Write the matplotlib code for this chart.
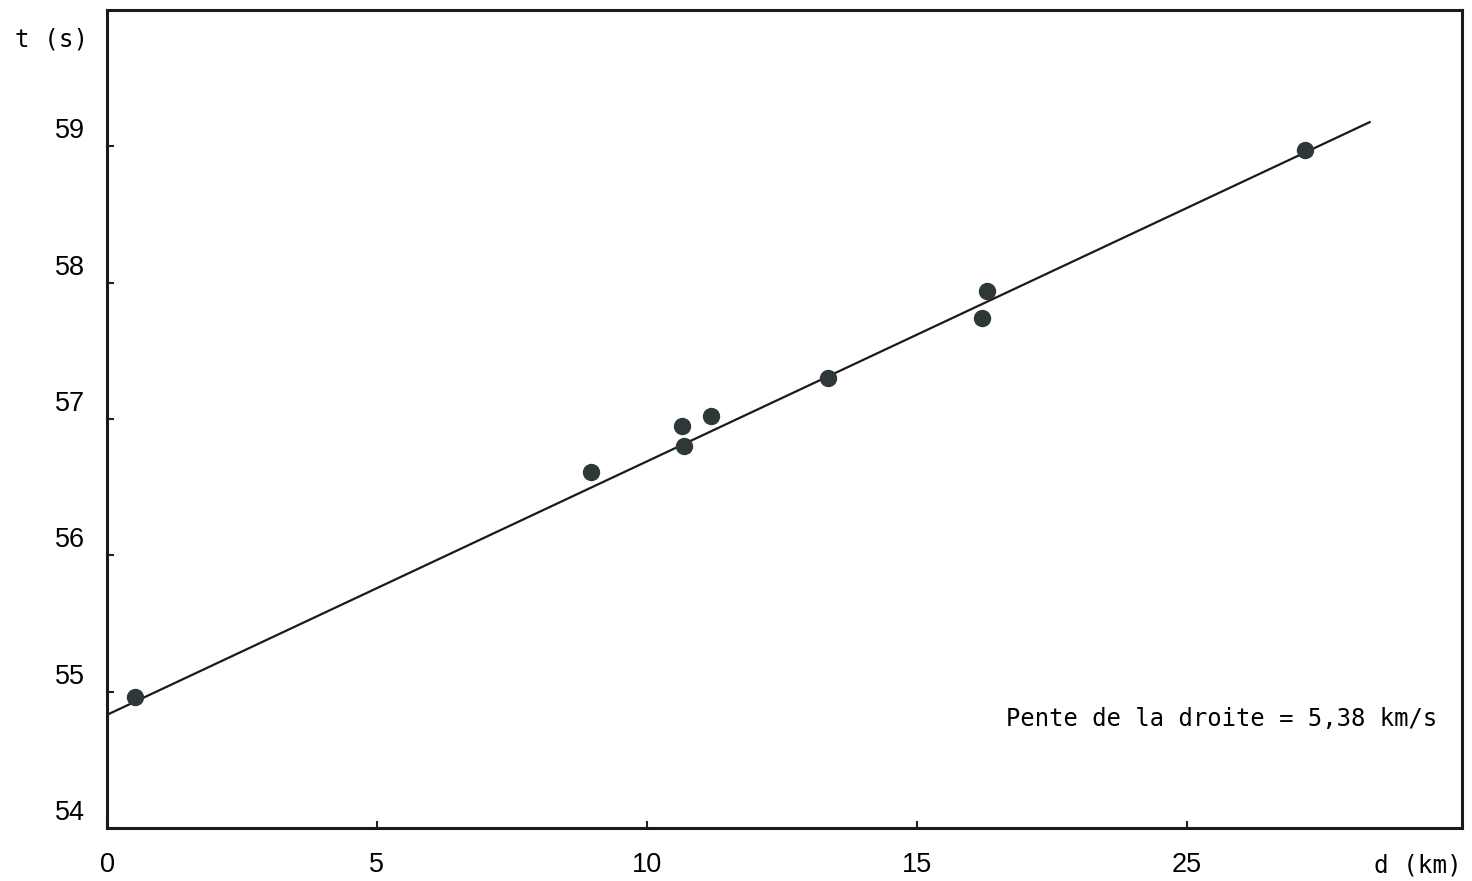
import matplotlib.pyplot as plt
import matplotlib.transforms as mtransforms
import numpy as np

# distances (km) and arrival times (s)
d_km = [0.52, 8.96, 10.65, 10.69, 11.19, 13.35, 16.20, 16.31, 22.19]
t_s = [54.96, 56.61, 56.95, 56.80, 57.02, 57.30, 57.74, 57.94, 58.97]

# fitted line: t = t0 + d / v
t0 = 54.83
v = 5.38
line_d = [0.0, 23.39]

xticks = [0, 5, 10, 15, 20]
xticklabels = ["0", "5", "10", "15", "25"]
yticks = [54, 55, 56, 57, 58, 59]

mono = "DejaVu Sans Mono"
sans = "Liberation Sans"

fig = plt.figure(figsize=(14.72, 8.81), dpi=100)
ax = fig.add_axes([0.0727, 0.0602, 0.9205, 0.9284])

ld = np.array(line_d)
ax.plot(ld, t0 + ld / v, color="#1a1a1a", lw=1.6, zorder=2)
ax.plot(d_km, t_s, "o", color="#2e3838", ms=11.5, zorder=3)

ax.set_xlim(0, 25.1)
ax.set_ylim(54, 60)

ax.set_xticks(xticks)
ax.set_xticklabels(xticklabels, fontfamily=sans, fontsize=19.5)
ax.set_yticks(yticks)
ax.set_yticklabels([str(y) for y in yticks], fontfamily=sans, fontsize=19.5)
ax.tick_params(direction="in", length=5, width=1.5, color="#222222")
ax.tick_params(axis="x", pad=17)
ax.tick_params(axis="y", pad=16)

# labels on the y axis sit a little above their tick
off = mtransforms.ScaledTranslation(0, 18 / 100, fig.dpi_scale_trans)
for lab in ax.get_yticklabels():
    lab.set_transform(lab.get_transform() + off)

for s in ax.spines.values():
    s.set_linewidth(2.2)
    s.set_color("#1a1a1a")

fig.text(15 / 1472, 1 - 40 / 881, "t (s)", family=mono, fontsize=17.5,
         ha="left", va="center")
fig.text(1462 / 1472, 1 - 865 / 881, "d (km)", family=mono, fontsize=17.5,
         ha="right", va="center")
ax.text(1437 / 1472, 1 - 719 / 881, "Pente de la droite = %s km/s" % str(v).replace(".", ","),
        transform=fig.transFigure, family=mono, fontsize=17.2,
        ha="right", va="center")

fig.savefig("out.png", dpi=100)
